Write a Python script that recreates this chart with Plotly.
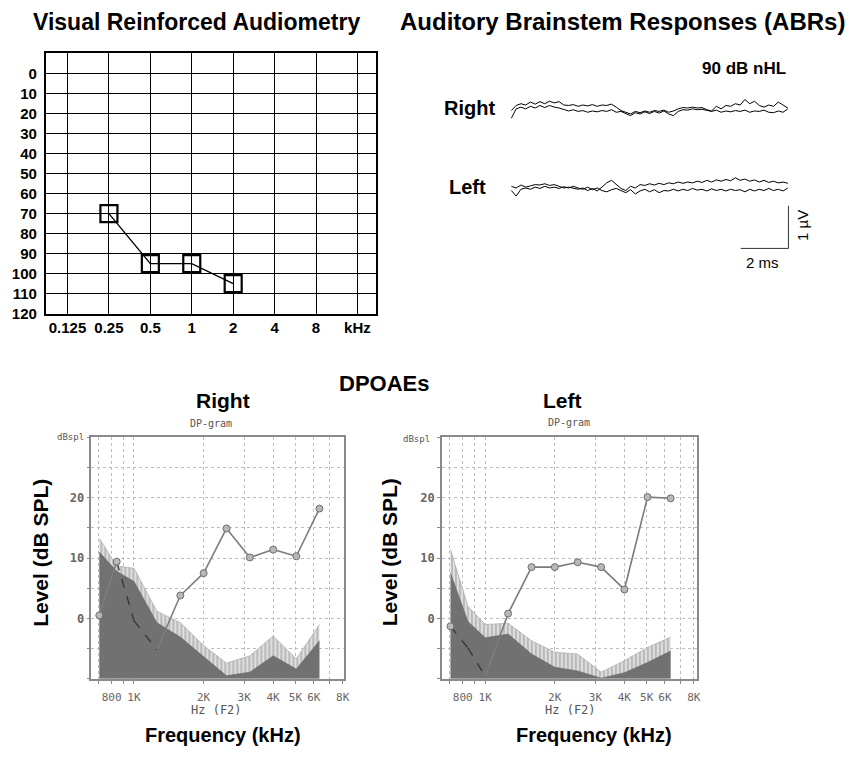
import plotly.graph_objects as go

W, H = 855, 759

# ---------------- data ----------------
# Visual Reinforced Audiometry
aud_tick_labels = ["0.125", "0.25", "0.5", "1", "2", "4", "8", "kHz"]
aud_freqs = ["0.25", "0.5", "1", "2"]
aud_thresholds = [70, 95, 95, 105]
aud_db_ticks = [0, 10, 20, 30, 40, 50, 60, 70, 80, 90, 100, 110, 120]

# ABR traces (µV), sampled every 0.2 ms from 0 to 11.6 ms
abr_dt_ms = 0.2
abr_right_1 = [-0.04, 0.08, 0.12, 0.09, 0.16, 0.11, 0.17, 0.12, 0.18, 0.14, 0.17, 0.09, 0.08, 0.10, 0.06,
               0.09, 0.07, 0.10, 0.06, 0.09, 0.08, 0.11, 0.04, -0.04, -0.08, -0.12, -0.06, -0.09, -0.05, -0.08,
               -0.04, -0.06, -0.03, -0.08, -0.05, 0.00, 0.03, 0.02, 0.04, 0.02, 0.03, -0.02, -0.05, 0.06, 0.00,
               0.08, 0.06, 0.12, 0.09, 0.22, 0.12, 0.18, 0.08, 0.04, 0.09, 0.06, 0.16, 0.08, 0.02]
abr_right_2 = [-0.22, 0.00, 0.04, 0.00, 0.06, 0.02, 0.08, 0.03, 0.08, 0.04, 0.02, -0.02, -0.05, -0.02, -0.06,
               -0.04, -0.08, -0.05, -0.07, -0.04, -0.06, -0.02, -0.08, -0.06, -0.12, -0.16, -0.09, -0.12, -0.07, -0.11,
               -0.06, -0.10, -0.05, -0.12, -0.16, -0.06, -0.02, -0.03, 0.00, -0.02, -0.01, -0.04, -0.06, -0.03, -0.08,
               -0.05, -0.07, -0.04, -0.06, -0.03, -0.08, -0.05, -0.06, -0.03, -0.08, -0.09, -0.05, -0.08, 0.00]
abr_left_1 = [0.02, -0.02, 0.05, 0.00, 0.03, 0.06, 0.05, 0.08, 0.04, 0.06, 0.02, -0.02, 0.00, -0.03, -0.05,
              -0.02, -0.08, -0.03, -0.09, 0.00, 0.10, 0.16, 0.06, -0.03, -0.08, 0.02, -0.02, 0.06, 0.04, 0.08,
              0.05, 0.09, 0.06, 0.10, 0.08, 0.12, 0.09, 0.12, 0.10, 0.14, 0.11, 0.16, 0.12, 0.17, 0.14,
              0.18, 0.15, 0.22, 0.16, 0.19, 0.14, 0.17, 0.12, 0.16, 0.11, 0.14, 0.10, 0.12, 0.09]
abr_left_2 = [-0.08, -0.21, -0.05, -0.02, -0.05, 0.00, -0.03, 0.02, -0.02, 0.00, -0.03, 0.01, -0.02, 0.02, -0.02,
              -0.05, 0.00, -0.06, -0.02, -0.08, -0.11, -0.06, -0.03, -0.09, -0.13, -0.06, -0.16, -0.09, -0.05, -0.11,
              -0.06, -0.13, -0.08, -0.09, -0.05, -0.09, -0.05, -0.08, -0.03, -0.07, -0.05, -0.09, -0.04, -0.08, -0.05,
              -0.09, -0.05, -0.08, -0.06, -0.11, -0.05, -0.09, -0.05, -0.08, -0.03, -0.08, -0.05, -0.09, -0.02]
abr_scale_ms = 2
abr_scale_uv = 1

# DPOAE DP-grams
dp_f2_hz = [708, 842, 1001, 1257, 1587, 2002, 2515, 3174, 4004, 5042, 6348]
dp_right = [0.5, 9.4, -0.4, -5.2, 3.8, 7.5, 14.9, 10.1, 11.4, 10.3, 18.2]
dp_right_noise_hi = [13.3, 8.7, 8.3, 1.2, -0.7, -4.5, -7.4, -6.2, -2.9, -6.7, -1.0]
dp_right_noise_lo = [11.0, 7.8, 6.1, -0.7, -3.1, -6.4, -9.5, -8.9, -6.2, -8.4, -3.7]
dp_right_marker = [1, 1, 0, 0, 1, 1, 1, 1, 1, 1, 1]
dp_right_dashed_seg = [0, 1, 1, 0, 0, 0, 0, 0, 0, 0]

dp_left = [-1.3, -4.9, -9.6, 0.8, 8.5, 8.5, 9.3, 8.5, 4.8, 20.1, 19.9]
dp_left_noise_hi = [11.4, 2.0, -1.0, -0.8, -3.7, -5.6, -5.9, -8.9, -7.0, -4.8, -3.1]
dp_left_noise_lo = [7.5, -0.5, -3.2, -2.6, -5.9, -8.1, -8.7, -9.9, -9.0, -7.3, -5.4]
dp_left_marker = [1, 0, 0, 1, 1, 1, 1, 1, 1, 1, 1]
dp_left_dashed_seg = [1, 1, 0, 0, 0, 0, 0, 0, 0, 0]

dp_x_tickvals = [700, 800, 900, 1000, 2000, 3000, 4000, 5000, 6000, 7000, 8000]
dp_x_ticktext = ["", "800", "", "1K", "2K", "3K", "4K", "5K", "6K", "", "8K"]
dp_y_tickvals = [-10, -5, 0, 5, 10, 15, 20, 25, 30]
dp_y_ticktext = ["", "", "0", "", "10", "", "20", "", ""]
DP_Y_MIN, DP_Y_MAX = -10, 30

# ---------------- helpers ----------------
def fx(px):
    return px / W


def fy(py):
    return 1 - py / H


BOLD = "Liberation Sans, Arial, Helvetica, sans-serif"
MONO = "DejaVu Sans Mono, Liberation Mono, monospace"

fig = go.Figure()

# ---------------- audiogram ----------------
aud_x = [aud_tick_labels.index(f) for f in aud_freqs]
fig.add_trace(go.Scatter(
    x=aud_x, y=aud_thresholds, mode="lines+markers",
    line=dict(color="black", width=1.3),
    marker=dict(symbol="square-open", size=17, color="black", line=dict(width=2.2)),
    xaxis="x", yaxis="y", hoverinfo="skip"))

# ---------------- ABR ----------------
RIGHT_OFFSET = 0.0
LEFT_OFFSET = -1.84
t_ms = [i * abr_dt_ms for i in range(len(abr_right_1))]
for tr, off in [(abr_right_1, RIGHT_OFFSET), (abr_right_2, RIGHT_OFFSET),
                (abr_left_1, LEFT_OFFSET), (abr_left_2, LEFT_OFFSET)]:
    fig.add_trace(go.Scatter(
        x=t_ms, y=[v + off for v in tr], mode="lines",
        line=dict(color="black", width=1), xaxis="x2", yaxis="y2", hoverinfo="skip"))

bar_x0, bar_y0 = 11.625, -3.28
fig.add_trace(go.Scatter(
    x=[bar_x0 - abr_scale_ms, bar_x0, bar_x0],
    y=[bar_y0, bar_y0, bar_y0 + abr_scale_uv],
    mode="lines", line=dict(color="#333", width=1), xaxis="x2", yaxis="y2", hoverinfo="skip"))


# ---------------- DP-grams ----------------
def add_dpgram(xa, ya, dp, nhi, nlo, mk, dseg):
    n = len(dp_f2_hz)
    base = [DP_Y_MIN] * n
    fig.add_trace(go.Scatter(x=dp_f2_hz, y=base, mode="lines", line=dict(width=0),
                             xaxis=xa, yaxis=ya, hoverinfo="skip"))
    fig.add_trace(go.Scatter(
        x=dp_f2_hz, y=nhi, mode="lines", fill="tonexty",
        fillcolor="#d8d8d8",
        fillpattern=dict(shape="|", fgcolor="#858585", bgcolor="#dedede", size=4, solidity=0.4),
        line=dict(color="#a0a0a0", width=0.6), xaxis=xa, yaxis=ya, hoverinfo="skip"))
    fig.add_trace(go.Scatter(x=dp_f2_hz, y=base, mode="lines", line=dict(width=0),
                             xaxis=xa, yaxis=ya, hoverinfo="skip"))
    fig.add_trace(go.Scatter(
        x=dp_f2_hz, y=nlo, mode="lines", fill="tonexty", fillcolor="#717171",
        line=dict(color="#686868", width=0.6), xaxis=xa, yaxis=ya, hoverinfo="skip"))
    sx, sy, dx, dy = [], [], [], []
    for i in range(n - 1):
        if dseg[i]:
            dx += [dp_f2_hz[i], dp_f2_hz[i + 1], None]
            dy += [dp[i], dp[i + 1], None]
        else:
            sx += [dp_f2_hz[i], dp_f2_hz[i + 1], None]
            sy += [dp[i], dp[i + 1], None]
    fig.add_trace(go.Scatter(x=sx, y=sy, mode="lines", line=dict(color="#7c7c7c", width=1.6),
                             xaxis=xa, yaxis=ya, hoverinfo="skip"))
    fig.add_trace(go.Scatter(x=dx, y=dy, mode="lines", line=dict(color="#333333", width=1.3, dash="dash"),
                             xaxis=xa, yaxis=ya, hoverinfo="skip"))
    fig.add_trace(go.Scatter(
        x=[f for f, m in zip(dp_f2_hz, mk) if m], y=[v for v, m in zip(dp, mk) if m],
        mode="markers", marker=dict(symbol="circle", size=7, color="#b8b8b8",
                                    line=dict(color="#6e6e6e", width=1)),
        xaxis=xa, yaxis=ya, hoverinfo="skip"))


add_dpgram("x3", "y3", dp_right, dp_right_noise_hi, dp_right_noise_lo, dp_right_marker, dp_right_dashed_seg)
add_dpgram("x4", "y4", dp_left, dp_left_noise_hi, dp_left_noise_lo, dp_left_marker, dp_left_dashed_seg)

# ---------------- axes ----------------
aud_axis_common = dict(showgrid=True, gridcolor="black", gridwidth=1.3, showline=True, mirror=True,
                       linecolor="black", linewidth=1.6, zeroline=False, ticks="",
                       tickfont=dict(family=BOLD, size=15, color="black", weight="bold"))

dp_x_common = dict(type="log", tickvals=dp_x_tickvals, ticktext=dp_x_ticktext, showgrid=True,
                   gridcolor="#bdbdbd", griddash="dot", gridwidth=1, showline=True, mirror=True,
                   linecolor="#8a8a8a", linewidth=1.5, ticks="outside", ticklen=3, tickcolor="#8a8a8a",
                   zeroline=False, ticklabelstandoff=4, tickfont=dict(family=MONO, size=11, color="#666"))
dp_y_common = dict(range=[DP_Y_MIN, DP_Y_MAX], tickvals=dp_y_tickvals, ticktext=dp_y_ticktext,
                   showgrid=True, gridcolor="#bdbdbd", griddash="dot", gridwidth=1, showline=True,
                   mirror=True, linecolor="#8a8a8a", linewidth=1.5, ticks="outside", ticklen=3,
                   tickcolor="#8a8a8a", zeroline=False,
                   tickfont=dict(family=MONO, size=12, color="#666", weight="bold"))

fig.update_layout(
    width=W, height=H, margin=dict(l=0, r=0, t=0, b=0),
    paper_bgcolor="white", plot_bgcolor="white", showlegend=False,
    xaxis=dict(domain=[fx(46), fx(379)], range=[-0.527, 7.456], tickvals=list(range(len(aud_tick_labels))),
               ticktext=aud_tick_labels, anchor="y", **aud_axis_common),
    yaxis=dict(domain=[fy(317), fy(54)], range=[120, -10], tickvals=aud_db_ticks, anchor="x",
               ticklabelstandoff=4, **aud_axis_common),
    xaxis2=dict(domain=[fx(500), fx(830)], range=[-0.625, 13.125], visible=False, anchor="y2"),
    yaxis2=dict(domain=[fy(280), fy(60)], range=[-3.953, 1.163], visible=False, anchor="x2"),
    xaxis3=dict(domain=[fx(92), fx(346)], range=[2.8156, 3.9071], anchor="y3", **dp_x_common),
    yaxis3=dict(domain=[fy(686), fy(442)], anchor="x3", **dp_y_common),
    xaxis4=dict(domain=[fx(445), fx(702)], range=[2.8126, 3.917], anchor="y4", **dp_x_common),
    yaxis4=dict(domain=[fy(686), fy(442)], anchor="x4", **dp_y_common),
)


def ann(text, px, py, size, family=BOLD, bold=True, color="black", angle=0):
    t = "<b>" + text + "</b>" if bold else text
    fig.add_annotation(text=t, x=fx(px), y=fy(py), xref="paper", yref="paper", showarrow=False,
                       xanchor="center", yanchor="middle", textangle=angle,
                       font=dict(family=family, size=size, color=color))


ann("Visual Reinforced Audiometry", 198, 22, 23)
ann("Auditory Brainstem Responses (ABRs)", 627, 22, 24)
ann("90 dB nHL", 749, 69, 17)
ann("Right", 473, 109, 20)
ann("Left", 471, 189, 20)
ann("2 ms", 768, 265, 15, bold=False)
ann("1 µV", 808, 228, 15, bold=False, angle=-90)
ann("DPOAEs", 387, 388, 22)
ann("Right", 225, 405, 21)
ann("Left", 566, 405, 21)
ann("DP-gram", 212, 428, 10, family=MONO, bold=False, color="#555")
ann("DP-gram", 573, 427, 10, family=MONO, bold=False, color="#555")
ann("dBspl", 71, 442, 9, family=MONO, bold=False, color="#555")
ann("dBspl", 419, 444, 9, family=MONO, bold=False, color="#555")
ann("Level (dB SPL)", 40, 559, 21, angle=-90)
ann("Level (dB SPL)", 392, 558, 21, angle=-90)
ann("Hz (F2)", 218, 718, 12, family=MONO, bold=False, color="#555")
ann("Hz (F2)", 575, 718, 12, family=MONO, bold=False, color="#555")
ann("Frequency (kHz)", 225, 743, 20)
ann("Frequency (kHz)", 598, 743, 20)

fig.write_html("out.html")
